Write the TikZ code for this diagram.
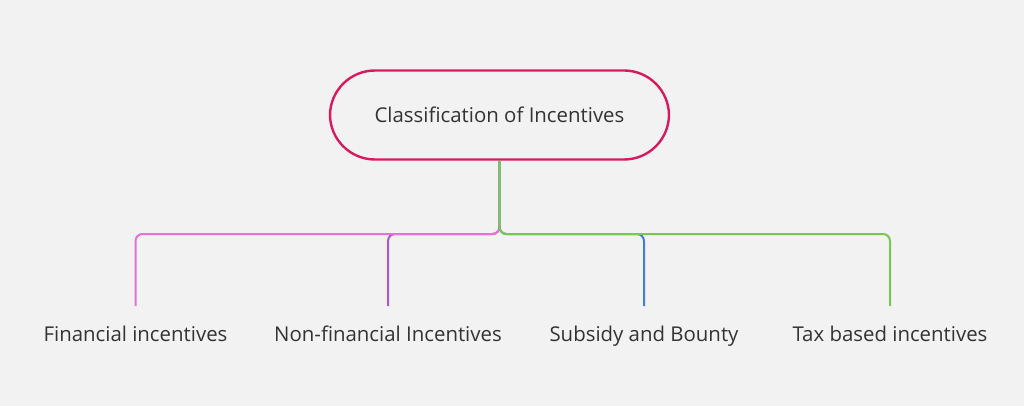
\documentclass[tikz,border=0pt]{standalone}
\usepackage{fontspec}
\setmainfont{Open Sans}
\begin{document}
\begin{tikzpicture}[x=1pt,y=-1pt,
  rootbox/.style={draw=rootc, line width=2.4pt, rounded corners=45pt, minimum width=339pt, minimum height=89pt, inner sep=0pt, font=\fontsize{20.4}{24}\selectfont, text=txt},
  leaf/.style={inner xsep=0pt, inner ysep=0pt, text height=15pt, text depth=4pt, font=\fontsize{20.4}{24}\selectfont, text=txt},
  branch/.style={line width=2pt, rounded corners=7pt}]
\definecolor{bg}{HTML}{F2F2F2}
\definecolor{txt}{HTML}{333333}
\definecolor{rootc}{HTML}{D81B60}
\definecolor{pinkl}{HTML}{E96FDD}
\definecolor{purpl}{HTML}{AE55CF}
\definecolor{bluel}{HTML}{3F7FDB}
\definecolor{greenl}{HTML}{78C850}
\fill[bg] (0,0) rectangle (1024,406);
\useasboundingbox (0,0) rectangle (1024,406);
\node[rootbox] (root) at (499.5,115) {Classification of Incentives};
\node[leaf] (fin) at (135.5,336) {Financial incentives};
\node[leaf] (non) at (388,336) {Non-financial Incentives};
\node[leaf] (sub) at (644,336) {Subsidy and Bounty};
\node[leaf] (tax) at (890,336) {Tax based incentives};
\coordinate (finT) at (135.5,306);
\coordinate (nonT) at (388,306);
\coordinate (subT) at (644,306);
\coordinate (taxT) at (890,306);
\draw[branch, purpl] (root.south) -- (499.5,234) -| (nonT);
\draw[branch, pinkl] (root.south) -- (499.5,234) -| (finT);
\draw[branch, bluel] (root.south) -- (499.5,234) -| (subT);
\draw[branch, greenl] (root.south) -- (499.5,234) -| (taxT);
\draw[line width=2pt, greenl] (root.south) -- (499.5,226);
\end{tikzpicture}
\end{document}
